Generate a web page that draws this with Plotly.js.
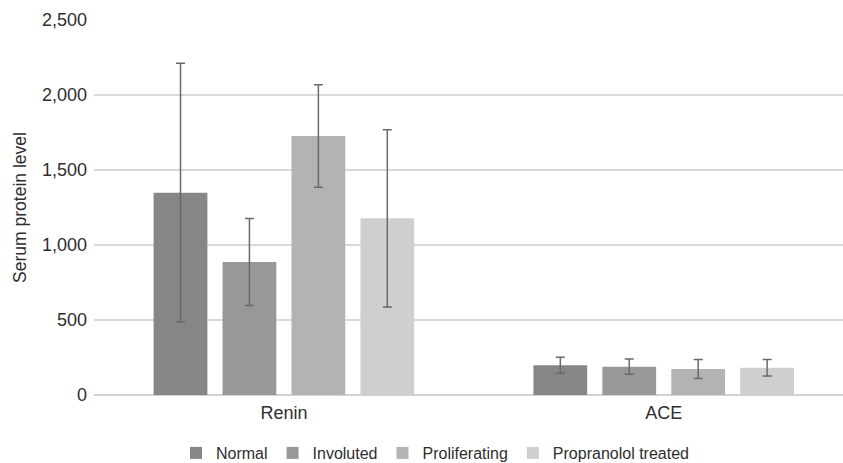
<!DOCTYPE html>
<html>
<head>
<meta charset="utf-8">
<script src="https://cdn.plot.ly/plotly-3.0.1.min.js"></script>
<style>
  html, body { margin: 0; padding: 0; background: #ffffff; }
  #chart { width: 843px; height: 463px; }
</style>
</head>
<body>
<div id="chart"></div>
<script>
// Serum protein levels by hemangioma group (mean ± error)
const categories = ["Renin", "ACE"];
const groups = ["Normal", "Involuted", "Proliferating", "Propranolol treated"];

const normalMean = [1349, 198];
const normalErr = [862, 53];
const involutedMean = [887, 189];
const involutedErr = [290, 51];
const proliferatingMean = [1727, 173];
const proliferatingErr = [342, 63];
const propranololMean = [1178, 182];
const propranololErr = [591, 55];

const yTickValues = [0, 500, 1000, 1500, 2000, 2500];
const yTickLabels = ["0", "500", "1,000", "1,500", "2,000", "2,500"];

const means = [normalMean, involutedMean, proliferatingMean, propranololMean];
const errs = [normalErr, involutedErr, proliferatingErr, propranololErr];
const colors = ["#858687", "#97989a", "#b2b3b5", "#cecfd0"];

const font = "Liberation Sans, Arial, Helvetica, sans-serif";
const textColor = "#2e2e2e";

const traces = groups.map((name, i) => ({
  type: "bar",
  name: name,
  x: categories,
  y: means[i],
  marker: { color: colors[i], line: { width: 0 } },
  error_y: {
    type: "data",
    array: errs[i],
    visible: true,
    color: "#6a6a6a",
    thickness: 1.5,
    width: 4.5
  },
  hoverinfo: "skip"
}));

const layout = {
  width: 843,
  height: 463,
  margin: { l: 94, r: 0, t: 20, b: 68 },
  paper_bgcolor: "#ffffff",
  plot_bgcolor: "#ffffff",
  barmode: "group",
  bargap: 0.274,
  bargroupgap: 0.22,
  font: { family: font, color: textColor },
  showlegend: true,
  legend: {
    orientation: "h",
    xref: "container",
    yref: "container",
    x: 0.516,
    xanchor: "center",
    y: 0.0216,
    yanchor: "middle",
    font: { family: font, size: 16, color: textColor },
    itemwidth: 30,
    traceorder: "normal",
    bgcolor: "rgba(0,0,0,0)"
  },
  xaxis: {
    type: "category",
    range: [-0.5, 1.472],
    showgrid: false,
    showline: false,
    zeroline: false,
    ticks: "",
    tickfont: { family: font, size: 18, color: textColor },
    ticklabelstandoff: 5
  },
  yaxis: {
    range: [0, 2500],
    tickvals: yTickValues,
    ticktext: yTickLabels,
    showgrid: true,
    gridcolor: "#d9d9d9",
    gridwidth: 1.5,
    zeroline: true,
    zerolinecolor: "#d2d2d2",
    zerolinewidth: 1.5,
    showline: false,
    ticks: "",
    tickfont: { family: font, size: 18, color: textColor },
    ticklabelstandoff: 6,
    title: {
      text: "Serum protein level",
      font: { family: font, size: 17.5, color: textColor },
      standoff: 10
    }
  }
};

Plotly.newPlot("chart", traces, layout, { displayModeBar: false, staticPlot: true });
</script>
</body>
</html>
